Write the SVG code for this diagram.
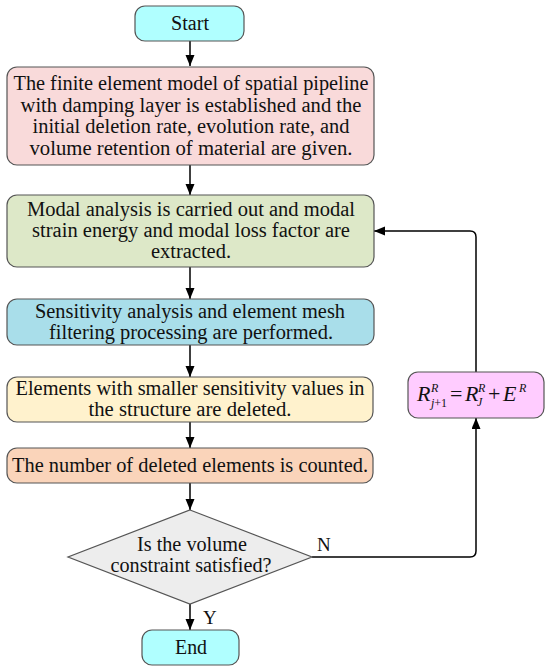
<svg xmlns="http://www.w3.org/2000/svg" width="550" height="672" viewBox="0 0 550 672">
<style>
.box{stroke:#555;stroke-width:1.2}
.t{font-family:"Liberation Serif","Times New Roman",serif;font-size:20.5px;fill:#111;text-anchor:middle}
.l{font-family:"Liberation Serif","Times New Roman",serif;font-size:19px;fill:#111}
.m{font-family:"Liberation Serif","Times New Roman",serif;font-style:italic;fill:#111;font-size:22px}
.s{font-size:12px}
.n{font-style:normal}
.c{fill:none;stroke:#000;stroke-width:1.5}
</style>
<defs>
<marker id="ah" markerUnits="userSpaceOnUse" markerWidth="12" markerHeight="10" refX="11" refY="4.5" orient="auto">
<path d="M0,0 L11,4.5 L0,9 z" fill="#000"/>
</marker>
</defs>
<rect width="550" height="672" fill="#fff"/>
<g id="connectors">
<line class="c" x1="190" y1="41" x2="190" y2="66" marker-end="url(#ah)"/>
<line class="c" x1="190" y1="165" x2="190" y2="195" marker-end="url(#ah)"/>
<line class="c" x1="190" y1="267" x2="190" y2="299" marker-end="url(#ah)"/>
<line class="c" x1="190" y1="345" x2="190" y2="377" marker-end="url(#ah)"/>
<line class="c" x1="190" y1="422" x2="190" y2="448" marker-end="url(#ah)"/>
<line class="c" x1="190" y1="483" x2="190" y2="510" marker-end="url(#ah)"/>
<line class="c" x1="190" y1="604" x2="190" y2="630" marker-end="url(#ah)"/>
<path class="c" d="M312,557 H470 Q476,557 476,551 V418" marker-end="url(#ah)"/>
<path class="c" d="M476,372 V237 Q476,231 470,231 H374" marker-end="url(#ah)"/>
<text class="l" x="317" y="551">N</text>
<text class="l" x="203" y="624">Y</text>
</g>
<g id="start">
<rect class="box" x="135" y="6" width="109" height="35" rx="10" fill="#B0FFFF"/>
<text class="t" x="190" y="30" textLength="38" lengthAdjust="spacingAndGlyphs">Start</text>
</g>
<g id="init">
<rect class="box" x="7" y="67" width="367" height="98" rx="10" fill="#F9DADA"/>
<text class="t" x="191" y="90" textLength="355" lengthAdjust="spacingAndGlyphs">The finite element model of spatial pipeline</text>
<text class="t" x="191" y="112" textLength="341" lengthAdjust="spacingAndGlyphs">with damping layer is established and the</text>
<text class="t" x="191" y="133" textLength="317" lengthAdjust="spacingAndGlyphs">initial deletion rate, evolution rate, and</text>
<text class="t" x="191" y="155" textLength="323" lengthAdjust="spacingAndGlyphs">volume retention of  material are given.</text>
</g>
<g id="modal">
<rect class="box" x="7" y="195" width="367" height="72" rx="10" fill="#DDE8C8"/>
<text class="t" x="191" y="216" textLength="328" lengthAdjust="spacingAndGlyphs">Modal analysis is carried out and modal</text>
<text class="t" x="191" y="237" textLength="318" lengthAdjust="spacingAndGlyphs">strain energy and modal loss factor are</text>
<text class="t" x="191" y="258" textLength="80" lengthAdjust="spacingAndGlyphs">extracted.</text>
</g>
<g id="sensitivity">
<rect class="box" x="7" y="299" width="367" height="46" rx="10" fill="#A9DEEA"/>
<text class="t" x="190" y="318" textLength="310" lengthAdjust="spacingAndGlyphs">Sensitivity analysis and element mesh</text>
<text class="t" x="191" y="339" textLength="284" lengthAdjust="spacingAndGlyphs">filtering processing are performed.</text>
</g>
<g id="delete">
<rect class="box" x="7" y="377" width="366" height="45" rx="10" fill="#FFF2CD"/>
<text class="t" x="190" y="395" textLength="349" lengthAdjust="spacingAndGlyphs">Elements with smaller sensitivity values in</text>
<text class="t" x="190" y="416" textLength="203" lengthAdjust="spacingAndGlyphs">the structure are deleted.</text>
</g>
<g id="count">
<rect class="box" x="7" y="448" width="366" height="35" rx="10" fill="#FAD4BA"/>
<text class="t" x="190" y="472" textLength="356" lengthAdjust="spacingAndGlyphs">The number of deleted elements is counted.</text>
</g>
<g id="decision">
<polygon class="box" points="190,510 312,557 190,604 68,557" fill="#EDEDED"/>
<text class="t" x="192" y="551" textLength="110" lengthAdjust="spacingAndGlyphs">Is the volume</text>
<text class="t" x="191" y="572" textLength="161" lengthAdjust="spacingAndGlyphs">constraint satisfied?</text>
</g>
<g id="update">
<rect class="box" x="408" y="372" width="136" height="46" rx="10" fill="#FFCCFF"/>
<text class="m"><tspan x="417" y="401">R</tspan><tspan class="s" x="431" y="392">R</tspan><tspan class="s" x="431" y="407">j<tspan class="n">+1</tspan></tspan><tspan class="n" x="450" y="401">=</tspan><tspan x="465" y="401">R</tspan><tspan class="s" x="478" y="392">R</tspan><tspan class="s" x="477" y="406">J</tspan><tspan class="n" x="488" y="401">+</tspan><tspan x="503" y="401">E</tspan><tspan class="s" x="519" y="392">R</tspan></text>
</g>
<g id="end">
<rect class="box" x="142" y="630" width="97" height="35" rx="10" fill="#B0FFFF"/>
<text class="t" x="191" y="654" textLength="32" lengthAdjust="spacingAndGlyphs">End</text>
</g>
</svg>
